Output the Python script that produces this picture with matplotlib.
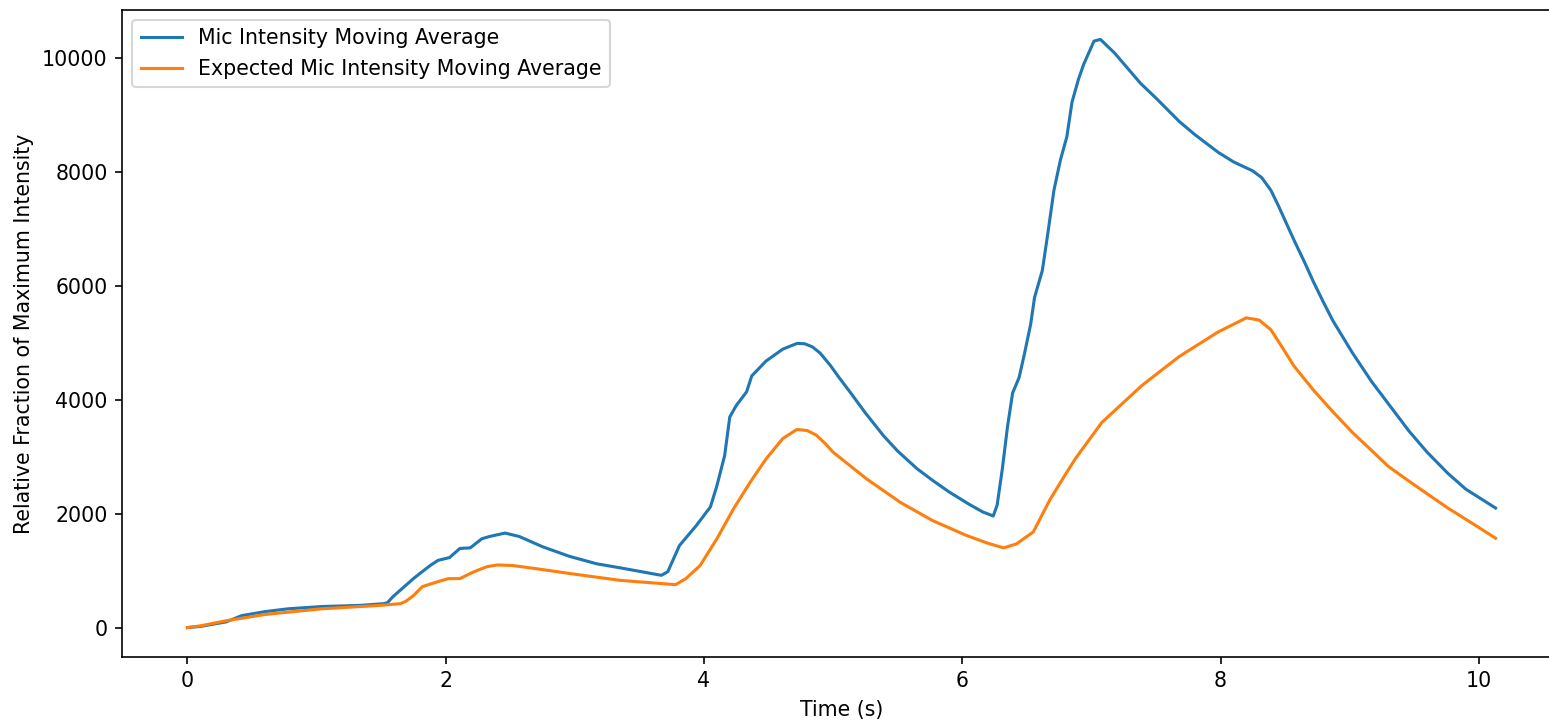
"""Mic intensity moving average vs expected moving average."""
import matplotlib
matplotlib.use("Agg")
import matplotlib.pyplot as plt

# values
mic_t = [0.00, 0.10, 0.30, 0.42, 0.60, 0.78, 1.04, 1.34, 1.52, 1.55, 1.59, 1.66,
         1.75, 1.80, 1.88, 1.94, 2.03, 2.11, 2.19, 2.28, 2.34, 2.46, 2.57, 2.75,
         2.96, 3.17, 3.35, 3.67, 3.72, 3.81, 3.94, 4.05, 4.10, 4.16, 4.20, 4.25,
         4.33, 4.37, 4.48, 4.61, 4.72, 4.78, 4.84, 4.90, 4.98, 5.05, 5.13, 5.25,
         5.39, 5.50, 5.65, 5.78, 5.90, 6.05, 6.16,
         6.24, 6.27, 6.31, 6.35, 6.39, 6.44, 6.48, 6.53, 6.56, 6.62, 6.66, 6.71,
         6.76, 6.81, 6.85, 6.90, 6.94, 7.02, 7.07, 7.18, 7.38, 7.50, 7.68, 7.80,
         7.98, 8.10, 8.25, 8.32, 8.39, 8.45, 8.50, 8.57, 8.65, 8.72, 8.80, 8.87,
         9.02, 9.17, 9.30, 9.46, 9.60, 9.76, 9.90, 10.13]
mic_avg = [0, 20, 100, 210, 280, 330, 370, 390, 420, 439, 540, 680,
           860, 950, 1090, 1180, 1230, 1390, 1400, 1560, 1600, 1660, 1600, 1420,
           1250, 1120, 1050, 918, 982, 1440, 1790, 2120, 2490, 3020, 3700, 3900,
           4140, 4420, 4680, 4890, 4990, 4985, 4930, 4820, 4600, 4380, 4140, 3770,
           3370, 3100, 2790, 2570, 2380, 2170, 2030,
           1960, 2150, 2780, 3520, 4120, 4390, 4790, 5330, 5800, 6270, 6880, 7680,
           8210, 8620, 9230, 9630, 9890, 10300, 10330, 10090, 9560, 9300, 8890, 8660,
           8350, 8180, 8020, 7900, 7680, 7400, 7150, 6800, 6420, 6070, 5700, 5390,
           4830, 4320, 3930, 3450, 3080, 2710, 2430, 2100]

exp_t = [0.00, 0.10, 0.30, 0.60, 1.04, 1.49, 1.65, 1.69, 1.75, 1.82, 1.93, 2.02,
         2.11, 2.19, 2.24, 2.32, 2.40, 2.52, 2.70, 2.96, 3.35, 3.78, 3.86, 3.97,
         4.10, 4.23, 4.36, 4.48, 4.61, 4.72, 4.80, 4.87, 4.94, 5.00, 5.26, 5.52,
         5.77, 6.03, 6.20, 6.32, 6.42, 6.55, 6.68, 6.81, 6.88, 7.08, 7.39, 7.68,
         7.98, 8.20, 8.30, 8.39, 8.47, 8.57, 8.72, 8.87, 9.02, 9.17, 9.30, 9.46,
         9.60, 9.76, 9.95, 10.13]
exp_avg = [0, 30, 120, 230, 330, 390, 420, 460, 560, 720, 800, 860,
           860, 950, 1000, 1070, 1100, 1090, 1035, 950, 830, 754, 860, 1090,
           1560, 2090, 2560, 2960, 3320, 3480, 3460, 3380, 3230, 3080, 2610, 2200,
           1880, 1620, 1480, 1400, 1470, 1680, 2250, 2730, 2980, 3600, 4250, 4760,
           5190, 5440, 5400, 5230, 4950, 4590, 4170, 3790, 3430, 3110, 2830, 2570,
           2350, 2100, 1830, 1570]


def main():
    dpi = 148
    fig = plt.figure(figsize=(1549 / dpi, 721 / dpi), dpi=dpi)
    # the reference is cropped on the right, so the axes run past the edge
    ax = fig.add_axes([122 / 1549, 64 / 721, 1439 / 1549, 647 / 721])

    ax.plot(mic_t, mic_avg, label="Mic Intensity Moving Average")
    ax.plot(exp_t, exp_avg, label="Expected Mic Intensity Moving Average")
    ax.set_xlabel("Time (s)")
    ax.set_ylabel("Relative Fraction of Maximum Intensity")
    ax.legend(loc="upper left")
    ax.spines["right"].set_visible(False)

    fig.savefig("out.png", dpi=dpi)
    plt.close(fig)


if __name__ == "__main__":
    main()
